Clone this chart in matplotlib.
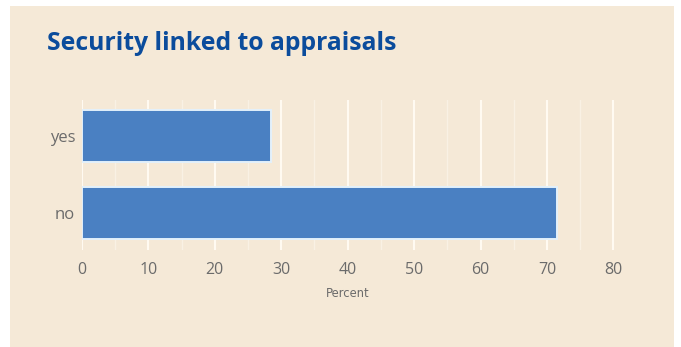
import matplotlib.pyplot as plt
from matplotlib.patches import Rectangle

# Share of respondents by answer
answers = ['no', 'yes']
percent = [71.5, 28.5]
ticks = [0, 10, 20, 30, 40, 50, 60, 70, 80]

bg = '#f5e9d7'
bar_color = '#4a80c2'
title_color = '#0b4c9c'
label_gray = '#6b6b6b'

W, H = 681, 347
fig = plt.figure(figsize=(W / 100, H / 100), dpi=100)
fig.patch.set_facecolor('white')

# beige panel behind everything
fig.patches.append(Rectangle((10 / W, 0), 664 / W, 341 / H,
                             transform=fig.transFigure, facecolor=bg,
                             edgecolor='none', zorder=-5))

fig.text(47 / W, 1 - 44 / H, 'Security linked to appraisals',
         fontsize=17.8, fontweight='bold', color=title_color,
         family='Open Sans', va='center', ha='left')

ax = fig.add_axes([82 / W, 1 - 250 / H, 540 / W, 150 / H])
ax.patch.set_alpha(0)

ax.barh(answers, percent, height=0.68, color=bar_color,
        edgecolor='#e3f1fb', linewidth=1.4, zorder=3)

ax.set_xlim(0, 81.3)
ax.set_ylim(-0.48, 1.47)
ax.set_xticks(ticks)
ax.set_xticks([t + 5 for t in ticks[:-1]], minor=True)
ax.grid(axis='x', which='major', color='#fffaf1', linewidth=1.5, zorder=0)
ax.grid(axis='x', which='minor', color='#f9f1e4', linewidth=1.0, zorder=0)
ax.grid(axis='y', visible=False)
ax.set_axisbelow(True)

for s in ax.spines.values():
    s.set_visible(False)
ax.tick_params(axis='both', which='both', length=0, colors=label_gray)
ax.tick_params(axis='x', labelsize=11.5, pad=9)
ax.tick_params(axis='y', labelsize=12, pad=5)
for lab in ax.get_xticklabels() + ax.get_yticklabels():
    lab.set_family('Open Sans')

ax.set_xlabel('Percent', fontsize=8.3, color=label_gray)
ax.xaxis.set_label_coords(40 / 81.3, -0.29)
ax.xaxis.label.set_va('center')

fig.savefig('out.png', dpi=100, facecolor=fig.get_facecolor())
